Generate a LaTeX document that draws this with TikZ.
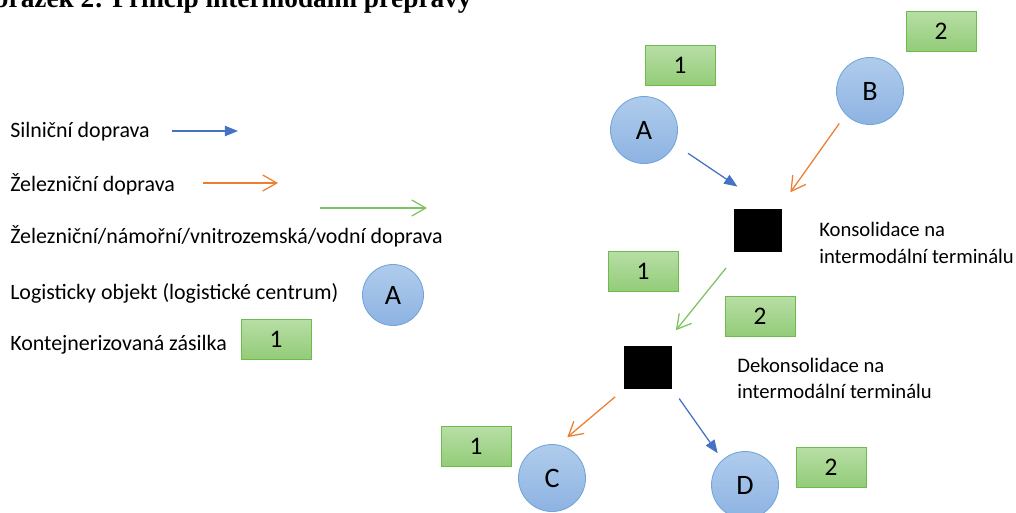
\documentclass[tikz,border=0pt]{standalone}
\usepackage{fontspec}
\setmainfont{Carlito}
\newfontfamily\titlefont{Liberation Serif}
\usetikzlibrary{arrows.meta,positioning}

\definecolor{roadblue}{HTML}{4472C4}
\definecolor{railorange}{HTML}{ED7D31}
\definecolor{watergreen}{HTML}{7DC35F}
\definecolor{siteline}{HTML}{6FA5DA}
\definecolor{sitetop}{HTML}{B0CCEC}
\definecolor{sitebot}{HTML}{8DB3E2}
\definecolor{loadline}{HTML}{6DBB4C}
\definecolor{loadtop}{HTML}{B8DEA6}
\definecolor{loadbot}{HTML}{93CC78}

\begin{document}
\begin{tikzpicture}[x=0.25mm, y=-0.25mm,
    font=\fontsize{15.6pt}{18.5pt}\selectfont,
    site/.style={circle, draw=siteline, line width=0.6pt, top color=sitetop,
        bottom color=sitebot, minimum size=67*0.25mm, inner sep=0pt,
        font=\fontsize{20pt}{22pt}\selectfont},
    load/.style={rectangle, draw=loadline, line width=0.6pt, top color=loadtop,
        bottom color=loadbot, minimum width=70*0.25mm, minimum height=40*0.25mm,
        inner sep=0pt, font=\fontsize{18pt}{20pt}\selectfont},
    hub/.style={rectangle, fill=black, minimum width=48*0.25mm,
        minimum height=43*0.25mm, inner sep=0pt},
    label/.style={anchor=base west, inner sep=0pt},
    note/.style={anchor=base west, inner sep=0pt, align=left,
        font=\fontsize{14.7pt}{18.5pt}\selectfont},
    road/.style={draw=roadblue, line width=0.9pt,
        -{Triangle[length=3.3mm, width=2.6mm]}},
    rail/.style={draw=railorange, line width=0.9pt,
        -{Straight Barb[length=3.5mm, width=4mm]}},
    water/.style={draw=watergreen, line width=0.9pt,
        -{Straight Barb[length=3.5mm, width=4mm]}}]
    \useasboundingbox (0,0) rectangle (1016,512);

    % title, cut by the page edge
    \node[anchor=base west, inner sep=0pt, font=\titlefont\bfseries\fontsize{19.4pt}{22pt}\selectfont]
        (title) at (-28,7) {Obrázek 2: Princip intermodální přepravy};

    % legend
    \node[label] (lroad) at (10,137) {Silniční doprava};
    \node[label] (lrail) at (10,191) {Železniční doprava};
    \node[label] (lwater) at (10,243) {Železniční/námořní/vnitrozemská/vodní doprava};
    \node[label] (lsite) at (10,299) {Logisticky objekt (logistické centrum)};
    \node[label] (lload) at (10,350) {Kontejnerizovaná zásilka};

    \coordinate (r1) at (172,131);
    \coordinate (r2) at (238,131);
    \coordinate (o1) at (203,183);
    \coordinate (o2) at (278,183);
    \coordinate (g1) at (320,208);
    \coordinate (g2) at (427,208);
    \draw[road] (r1) -- (r2);
    \draw[rail] (o1) -- (o2);
    \draw[water] (g1) -- (g2);

    \node[site, minimum size=61*0.25mm] (ksite) at (393,295) {A};
    \node[load] (kload) at (276,339) {1};

    % sources
    \node[site] (a) at (644,130) {A};
    \node[site] (b) at (870,91) {B};
    \node[load] (la) at (680,65) {1};
    \node[load] (lb) at (941,31) {2};

    % terminals
    \node[hub] (t1) at (758,230) {};
    \node[hub] (t2) at (648,367) {};
    \node[note] (n1) at (819,263) {Konsolidace na\\intermodální terminálu};
    \node[note] (n2) at (737,398) {Dekonsolidace na\\intermodální terminálu};
    \node[load] (l1) at (643,271) {1};
    \node[load] (l2) at (760,316) {2};

    % destinations
    \node[site] (c) at (552,478) {C};
    \node[site] (d) at (745,485) {D};
    \node[load] (lc) at (476,446) {1};
    \node[load] (ld) at (831,467) {2};

    \draw[road, shorten <=4mm, shorten >=9.7mm] (a.-25) -- (t1.62);
    \draw[rail, shorten <=2.75mm, shorten >=4.9mm] (b.224) -- (t1.46);
    \draw[water, shorten <=5.15mm, shorten >=4.8mm] (t1.229) -- (t2.54);
    \draw[rail, shorten <=3.1mm, shorten >=2.9mm] (t2.223) -- (c.79);
    \draw[road, shorten <=3mm, shorten >=2mm] (t2.south east) -- (d.132);
\end{tikzpicture}
\end{document}
